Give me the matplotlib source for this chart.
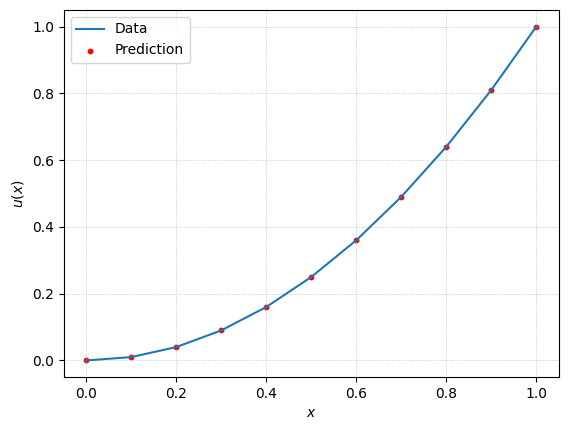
import numpy as np
import matplotlib.pyplot as plt

x = [0.0, 0.1, 0.2, 0.3, 0.4, 0.5, 0.6, 0.7, 0.8, 0.9, 1.0]
u_data = [0.0, 0.01, 0.04, 0.09, 0.16, 0.25, 0.36, 0.49, 0.64, 0.81, 1.0]
u_pred = [0.0, 0.01, 0.04, 0.09, 0.16, 0.25, 0.36, 0.49, 0.64, 0.81, 1.0]

fig, ax = plt.subplots(figsize=(5.69, 4.32), dpi=100)
fig.subplots_adjust(left=0.112, right=0.982, top=0.977, bottom=0.127)

ax.plot(x, u_data, label="Data")
ax.scatter(x, u_pred, color="red", s=10, label="Prediction")
ax.set_xlabel("$x$")
ax.set_ylabel("$u(x)$")
ax.grid(True, linestyle=":", linewidth=0.5, color="#b0b0b0")
ax.legend(loc="upper left")

fig.savefig("out.png", dpi=100)
